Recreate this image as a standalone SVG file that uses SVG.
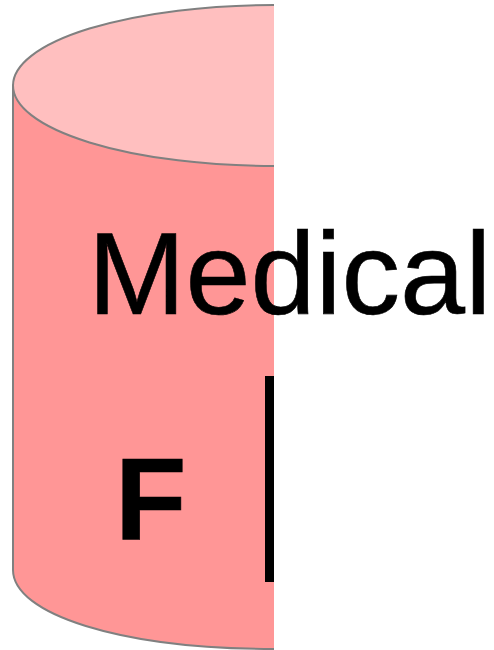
<svg xmlns="http://www.w3.org/2000/svg" width="494" height="650" viewBox="0 0 494 650">
<style>
.s{stroke:#808080;stroke-width:2}
text{font-family:"Liberation Sans",Arial,sans-serif;fill:#000;stroke:#000;stroke-width:.6}
</style>
<defs><clipPath id="c"><rect x="0" y="0" width="274" height="650"/></clipPath></defs>
<g id="cylinder" clip-path="url(#c)">
<path class="s" fill="#ff9696" d="M13 85.500V570C13 614 120 649 274 649H400V85.500Z"/>
<ellipse class="s" fill="#ffbfbf" cx="274" cy="85.500" rx="261" ry="80.500"/>
</g>
<g id="labels">
<text x="88" y="314" font-size="117">Medical</text>
<text x="115" y="539.500" font-size="117" font-weight="bold">F</text>
<rect x="265" y="376" width="9" height="206" fill="#000"/>
</g>
</svg>
